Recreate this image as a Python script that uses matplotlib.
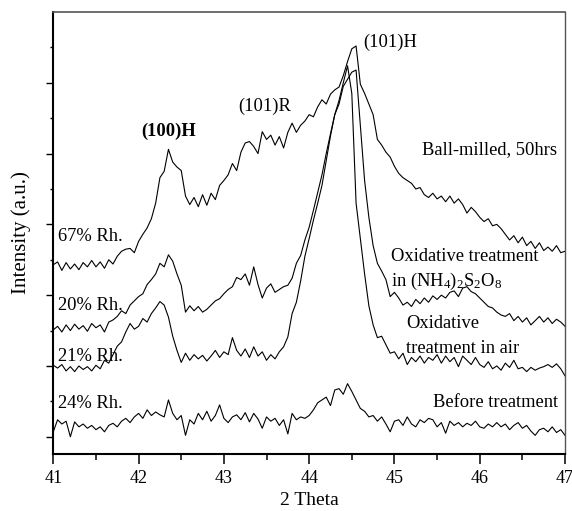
import numpy as np
import matplotlib.pyplot as plt

plt.rcParams['font.family'] = 'Liberation Serif'
plt.rcParams['mathtext.fontset'] = 'custom'
plt.rcParams['mathtext.rm'] = 'Liberation Serif'
plt.rcParams['mathtext.it'] = 'Liberation Serif:italic'

# XRD scans, 41-47 deg 2theta, step 0.05 (stacked offsets included)
ball_milled = [
    2.43, 2.47, 2.35, 2.46, 2.37, 2.44, 2.36, 2.46, 2.40, 2.49,
    2.40, 2.47, 2.38, 2.50, 2.44, 2.55, 2.62, 2.65, 2.66, 2.60,
    2.76, 2.86, 2.95, 3.08, 3.30, 3.66, 3.75, 4.06, 3.88, 3.81,
    3.76, 3.40, 3.28, 3.38, 3.25, 3.42, 3.27, 3.44, 3.35, 3.55,
    3.62, 3.70, 3.86, 3.76, 4.02, 4.15, 4.17, 4.10, 4.00, 4.31,
    4.20, 4.26, 4.12, 4.24, 4.08, 4.30, 4.43, 4.30, 4.40, 4.46,
    4.55, 4.52, 4.66, 4.76, 4.70, 4.84, 4.90, 4.94, 5.10, 5.30,
    5.48, 5.52, 4.98, 4.85, 4.70, 4.55, 4.20, 4.12, 4.02, 3.95,
    3.82, 3.72, 3.66, 3.62, 3.58, 3.50, 3.52, 3.42, 3.38, 3.44,
    3.36, 3.40, 3.32, 3.40, 3.30, 3.36, 3.28, 3.16, 3.24, 3.18,
    3.10, 3.04, 3.08, 2.98, 3.00, 2.94, 2.86, 2.78, 2.84, 2.74,
    2.82, 2.70, 2.76, 2.66, 2.74, 2.63, 2.68, 2.62, 2.70, 2.60,
    2.62]

persulfate = [
    1.51, 1.56, 1.48, 1.58, 1.50, 1.59, 1.52, 1.57, 1.49, 1.60,
    1.54, 1.58, 1.48, 1.62, 1.65, 1.70, 1.78, 1.74, 1.86, 1.92,
    1.98, 2.02, 2.15, 2.22, 2.30, 2.45, 2.40, 2.57, 2.48, 2.30,
    2.14, 1.76, 1.85, 1.78, 1.84, 1.76, 1.80, 1.86, 1.92, 1.95,
    2.02, 2.08, 2.12, 2.25, 2.22, 2.30, 2.14, 2.40, 2.15, 1.96,
    2.10, 2.16, 2.04, 2.08, 2.12, 2.14, 2.24, 2.45, 2.56, 2.78,
    2.96, 3.20, 3.45, 3.70, 4.00, 4.28, 4.55, 4.70, 4.95, 5.05,
    5.15, 5.18, 4.40, 3.62, 3.10, 2.70, 2.45, 2.34, 2.22, 1.98,
    2.04, 1.96, 1.86, 1.90, 1.84, 1.94, 1.88, 1.96, 1.90, 1.99,
    1.94, 2.00, 1.96, 2.04, 2.06, 1.98, 2.10, 2.12, 2.05, 2.02,
    1.96, 1.90, 1.84, 1.82, 1.76, 1.72, 1.70, 1.74, 1.64, 1.70,
    1.62, 1.68, 1.58, 1.64, 1.70, 1.62, 1.68, 1.60, 1.66, 1.62,
    1.56]

air = [
    1.01, 0.97, 1.02, 0.93, 0.99, 0.92, 1.00, 0.95, 0.99, 0.93,
    1.01, 0.96, 1.08, 1.04, 1.16, 1.28, 1.34, 1.48, 1.60, 1.52,
    1.56, 1.67, 1.62, 1.74, 1.82, 1.91, 1.86, 1.69, 1.42, 1.22,
    1.05, 1.18, 1.08, 1.16, 1.10, 1.15, 1.07, 1.14, 1.22, 1.12,
    1.20, 1.16, 1.40, 1.22, 1.14, 1.24, 1.12, 1.27, 1.14, 1.20,
    1.08, 1.16, 1.10, 1.20, 1.27, 1.41, 1.74, 1.90, 2.20, 2.55,
    2.80, 3.06, 3.30, 3.55, 3.90, 4.25, 4.55, 4.75, 5.00, 5.24,
    4.85, 3.30, 2.80, 2.30, 1.85, 1.58, 1.40, 1.42, 1.30, 1.18,
    1.20, 1.10, 1.18, 1.02, 1.12, 1.06, 1.14, 1.04, 1.12, 1.08,
    1.16, 1.04, 1.14, 1.06, 1.12, 0.99, 1.14, 1.08, 1.02, 1.12,
    1.02, 0.98, 1.06, 0.96, 1.00, 0.94, 1.04, 0.98, 1.08, 0.96,
    0.98, 0.92, 0.98, 0.94, 0.97, 0.99, 1.02, 0.98, 1.03, 0.96,
    0.86]

before = [
    0.07, 0.24, 0.18, 0.22, 0.00, 0.21, 0.14, 0.18, 0.12, 0.16,
    0.10, 0.14, 0.07, 0.16, 0.19, 0.14, 0.22, 0.26, 0.20, 0.28,
    0.33, 0.26, 0.38, 0.30, 0.35, 0.31, 0.28, 0.52, 0.33, 0.24,
    0.30, 0.02, 0.24, 0.18, 0.33, 0.24, 0.36, 0.22, 0.30, 0.45,
    0.26, 0.20, 0.28, 0.31, 0.24, 0.34, 0.21, 0.33, 0.25, 0.12,
    0.28, 0.22, 0.26, 0.16, 0.24, 0.04, 0.33, 0.24, 0.28, 0.26,
    0.30, 0.38, 0.48, 0.52, 0.56, 0.44, 0.66, 0.68, 0.60, 0.75,
    0.64, 0.52, 0.40, 0.36, 0.28, 0.30, 0.22, 0.28, 0.18, 0.07,
    0.22, 0.24, 0.16, 0.28, 0.18, 0.14, 0.24, 0.20, 0.26, 0.24,
    0.14, 0.20, 0.05, 0.22, 0.16, 0.20, 0.14, 0.19, 0.16, 0.22,
    0.14, 0.12, 0.18, 0.14, 0.20, 0.14, 0.18, 0.10, 0.16, 0.20,
    0.12, 0.16, 0.08, 0.02, 0.10, 0.12, 0.07, 0.14, 0.06, 0.10,
    0.02]

two_theta = np.linspace(41, 47, len(ball_milled))

fig = plt.figure(figsize=(5.72, 5.11), dpi=100)
ax = fig.add_axes([0.0932, 0.1115, 0.8946, 0.865])

for y in (ball_milled, persulfate, air, before):
    ax.plot(two_theta, y, color='black', lw=0.8)

ax.set_xlim(41, 47)
ax.set_ylim(-0.244, 6.0)
ax.set_xticks(range(41, 48))
ax.set_xticks(np.arange(41.5, 47, 1), minor=True)
ax.set_yticks(range(0, 6))
ax.set_yticks(np.arange(0.5, 6, 1), minor=True)
ax.set_yticklabels([])
ax.tick_params(axis='x', which='major', length=7.2, width=1.1, labelsize=13, pad=4)
ax.tick_params(axis='x', which='minor', length=4.1, width=1.1)
ax.tick_params(axis='y', which='major', length=5.3, width=1.0)
ax.tick_params(axis='y', which='minor', length=2.4, width=1.0)
ax.spines['left'].set_linewidth(1.5)
ax.spines['bottom'].set_linewidth(1.5)
ax.spines['top'].set_linewidth(1.2)
ax.spines['top'].set_color('#555555')
ax.spines['right'].set_linewidth(1.0)
ax.spines['right'].set_color('#555555')

fs = 13.3
ax.text(42.35, 4.31, '(100)H', fontsize=fs, fontweight='bold', ha='center', va='center')
ax.text(43.48, 4.67, '(101)R', fontsize=fs, ha='center', va='center')
ax.text(44.95, 5.57, '(101)H', fontsize=fs, ha='center', va='center')
ax.text(45.32, 4.06, 'Ball-milled, 50hrs', fontsize=fs, va='center')
ax.text(44.96, 2.54, 'Oxidative treatment', fontsize=fs, va='center')
ax.text(44.96, 2.19, r'in (NH$_4$)$_2$S$_2$O$_8$', fontsize=fs, va='center')
ax.text(45.14, 1.60, 'Oxidative', fontsize=fs, va='center')
ax.text(45.14, 1.25, 'treatment in air', fontsize=fs, va='center')
ax.text(45.45, 0.49, 'Before treatment', fontsize=fs, va='center')
for lab, yy in [('67% Rh.', 2.83), ('20% Rh.', 1.86), ('21% Rh.', 1.13), ('24% Rh.', 0.47)]:
    ax.text(41.06, yy, lab, fontsize=fs, va='center')

fig.text(0.54, 6 / 511, '2 Theta', ha='center', va='baseline', fontsize=14)
fig.text(0.037, 0.544, 'Intensity (a.u.)', ha='center', va='center', rotation='vertical', fontsize=15)

fig.savefig('out.png', dpi=100)
